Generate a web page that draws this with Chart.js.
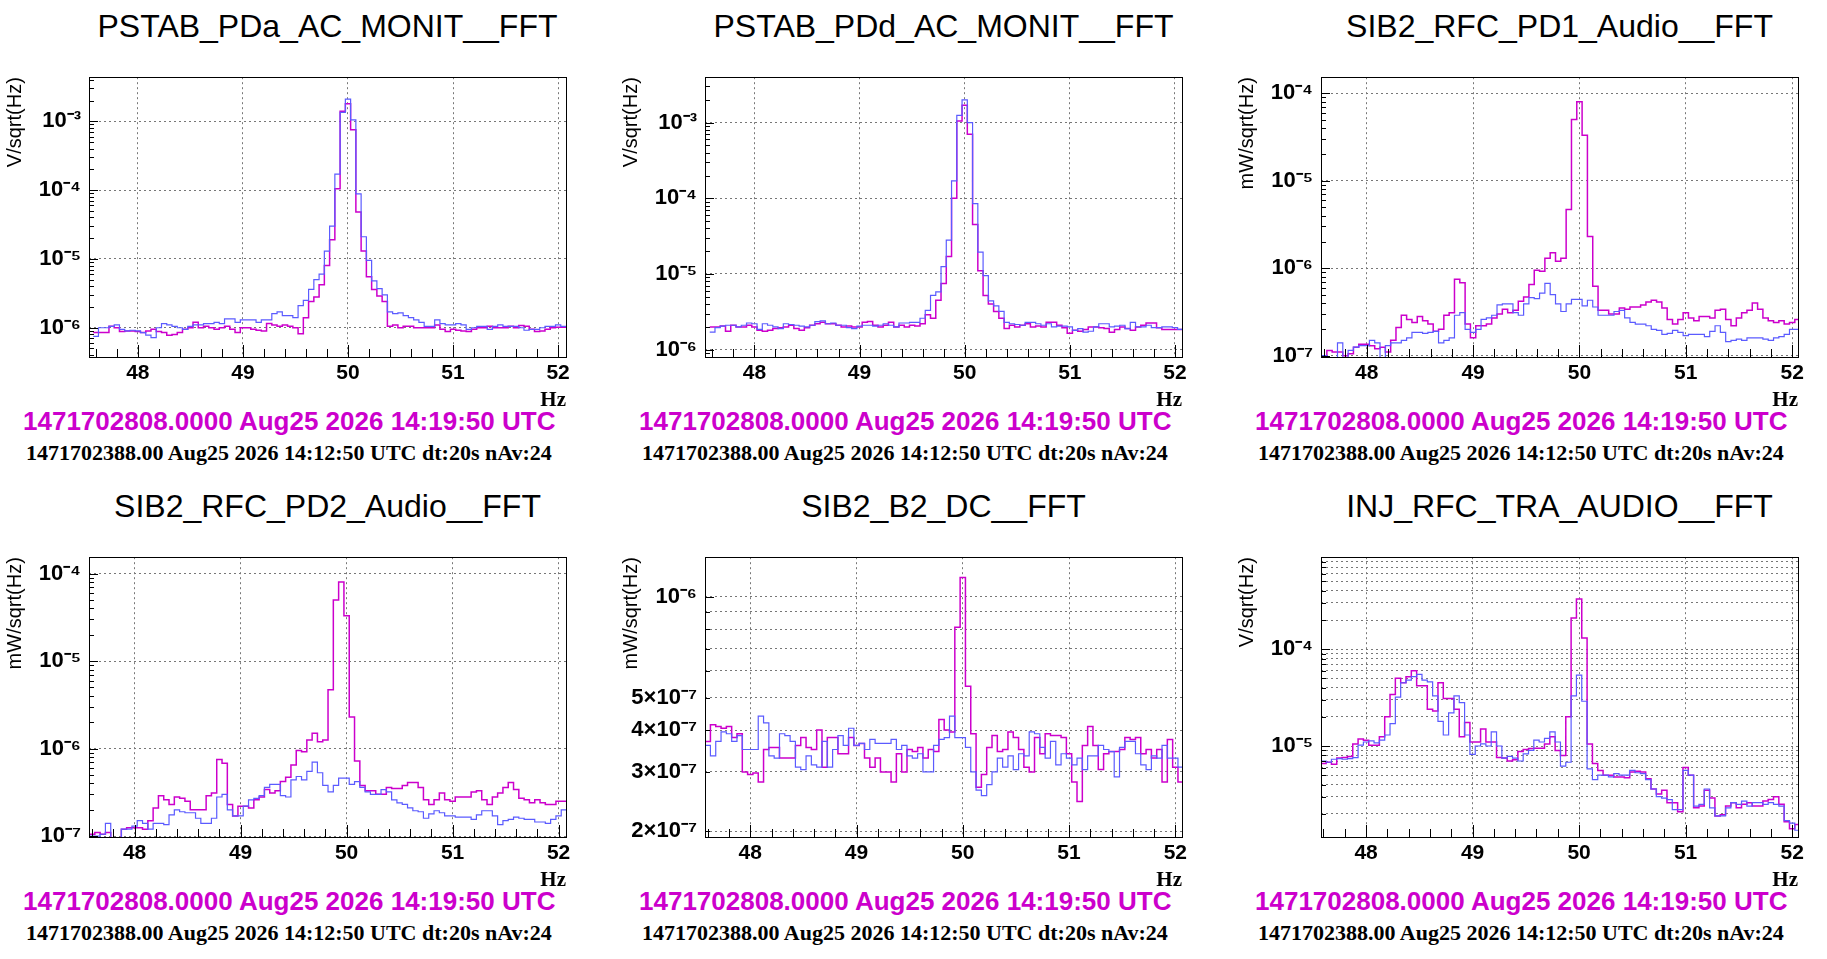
<!DOCTYPE html>
<html>
<head>
<meta charset="utf-8">
<script src="https://cdn.jsdelivr.net/npm/chart.js@4.4.1/dist/chart.umd.min.js"></script>
<style>
  body { margin: 0; background: #fff; width: 1827px; height: 959px; overflow: hidden; position: relative; }
  .title { position: absolute; font-family: "Liberation Sans", Arial, sans-serif; font-size: 32px; color: #000; text-align: center; white-space: nowrap; }
  .gps { position: absolute; font-family: "Liberation Sans", Arial, sans-serif; font-weight: bold; font-size: 26px; color: #cc00cc; white-space: nowrap; }
  .info { position: absolute; font-family: "Liberation Serif", "Times New Roman", serif; font-weight: bold; font-size: 22px; color: #000; white-space: nowrap; }
  canvas { position: absolute; }
</style>
</head>
<body>
<script>
// spectra, one value per 0.05 Hz bin starting at 47.60 Hz (10 bins per row), in units of `unit`
const panels = [
  {
    title: 'PSTAB_PDa_AC_MONIT__FFT', ylabel: 'V/sqrt(Hz)', unit: 1e-6,
    left: 89, top: 66, xmin: 47.535, xmax: 52.075, ymin: Math.pow(10, -6.425), ymax: Math.pow(10, -2.36),
    ticks: [1e-6, 1e-5, 1e-4, 1e-3],
    magenta: [
      0.85,0.85,0.85,1.05,1.0,0.88,0.9,0.9,0.88,0.85,
      0.9,0.95,0.88,0.85,0.78,0.8,0.85,0.95,1.0,1.2,
      1.0,1.05,1.0,0.95,1.0,1.05,0.95,0.85,1.0,1.0,
      0.95,0.92,0.9,1.15,1.1,1.05,1.1,1.05,1.0,0.82,
      1.4,2.4,2.8,4.2,8,19,105,1400,1800,750,
      48,13,5.5,3.6,2.9,2.4,1.05,1.1,1.0,1.05,
      1.05,1.0,1.0,1.0,1.0,1.1,0.95,0.88,0.95,0.92,
      0.9,0.88,0.95,1.0,1.0,1.05,1.0,1.0,1.0,1.05,
      1.0,1.08,1.05,0.95,0.88,0.9,0.95,1.0,1.02,1.02
    ],
    blue: [
      0.75,1.0,1.0,1.05,1.1,0.95,0.9,0.92,0.9,0.85,
      0.78,0.72,1.0,1.15,1.1,1.05,1.0,0.95,1.05,1.1,
      1.1,1.15,1.15,1.2,1.15,1.35,1.35,1.2,1.3,1.3,
      1.3,1.2,1.3,1.3,1.6,1.7,1.5,1.5,1.4,2.1,
      2.5,3.6,5.0,6.0,13,30,170,1350,2100,1050,
      88,21,9.5,4.8,3.7,3.0,1.7,1.6,1.65,1.5,
      1.4,1.3,1.2,1.05,1.05,1.3,1.15,1.1,1.1,1.15,
      1.1,0.95,1.0,1.05,1.05,0.95,1.05,1.1,1.05,1.05,
      1.05,1.0,0.92,0.95,0.95,1.0,1.05,1.05,1.1,1.05
    ]
  },
  {
    title: 'PSTAB_PDd_AC_MONIT__FFT', ylabel: 'V/sqrt(Hz)', unit: 1e-6,
    left: 705, top: 66, xmin: 47.53, xmax: 52.067, ymin: Math.pow(10, -6.097), ymax: Math.pow(10, -2.40),
    ticks: [1e-6, 1e-5, 1e-4, 1e-3],
    magenta: [
      2.0,2.0,2.05,1.75,2.1,2.0,2.0,2.1,2.0,1.8,
      1.75,1.8,1.9,1.95,2.0,2.1,1.9,1.8,1.95,2.1,
      2.2,2.3,2.2,2.2,2.1,2.0,2.05,2.0,2.0,2.3,
      2.35,2.1,2.0,2.1,2.3,2.0,2.1,2.0,2.1,2.05,
      2.2,2.9,2.6,4.5,7.5,17,100,1050,1700,700,
      45,11,5.2,4.0,3.2,2.6,1.9,2.1,2.0,2.1,
      2.2,2.0,2.05,2.0,2.3,2.3,2.1,1.95,1.65,1.8,
      1.75,1.85,2.0,2.0,1.95,1.9,1.7,1.85,2.0,1.9,
      1.8,2.0,2.1,2.25,2.25,1.95,1.85,1.85,1.85,1.85
    ],
    blue: [
      1.7,1.95,2.05,2.1,2.1,2.0,2.1,2.25,2.2,1.85,
      2.2,2.1,2.0,1.9,2.2,2.15,2.1,2.05,2.0,2.1,
      2.35,2.4,2.2,2.25,2.1,2.1,1.95,1.9,2.05,2.1,
      2.1,2.05,2.1,2.2,2.1,2.0,2.25,2.25,2.3,2.3,
      2.6,3.3,5.2,5.8,12.5,28,170,1250,2000,1000,
      85,19.5,9.5,4.4,3.8,3.2,2.3,2.2,2.15,2.1,
      2.3,2.3,2.2,2.1,2.2,2.0,2.05,2.05,2.0,1.8,
      1.9,1.7,1.75,2.0,2.2,2.2,2.0,2.05,2.1,1.9,
      2.3,2.0,2.0,2.1,1.95,1.95,2.0,2.0,1.95,1.85
    ]
  },
  {
    title: 'SIB2_RFC_PD1_Audio__FFT', ylabel: 'mW/sqrt(Hz)', unit: 1e-7,
    left: 1321, top: 66, xmin: 47.57, xmax: 52.055, ymin: Math.pow(10, -7.015), ymax: Math.pow(10, -3.817),
    ticks: [1e-7, 1e-6, 1e-5, 1e-4],
    magenta: [
      1.0,1.15,1.1,1.1,1.0,1.05,1.25,1.35,1.35,1.3,
      1.2,1.25,1.1,1.5,2.1,2.9,2.6,2.4,2.8,2.5,
      2.3,1.9,2.0,2.9,3.1,7.5,6.8,2.3,1.6,2.2,
      2.2,2.3,2.7,3.0,3.4,3.1,3.3,4.2,4.7,6.5,
      9.5,9.2,13,15,12,13,47,500,800,330,
      23,6.2,3.3,3.3,3.0,3.0,3.5,3.4,3.6,3.6,
      3.8,4.1,4.3,4.1,3.5,2.6,2.3,2.6,3.1,2.7,
      2.5,2.8,2.8,2.7,3.3,3.4,2.6,2.2,2.7,3.1,
      3.3,4.0,3.4,2.7,2.5,2.4,2.5,2.3,2.4,2.6
    ],
    blue: [
      1.0,0.95,0.9,1.4,0.9,1.15,1.25,1.3,1.3,1.5,
      1.4,0.95,1.3,1.4,1.4,1.5,1.6,1.85,1.85,1.8,
      1.85,1.9,1.4,1.5,1.6,2.9,3.1,2.0,1.85,2.0,
      2.6,2.7,2.9,3.8,3.9,3.9,3.1,2.9,3.9,4.6,
      4.5,5.2,6.7,5.0,3.9,3.2,3.9,4.4,4.4,3.7,
      4.3,3.6,2.9,2.9,2.9,3.2,3.3,2.7,2.4,2.3,
      2.3,2.2,2.0,1.95,1.75,1.8,1.95,1.85,1.7,1.75,
      1.75,1.75,1.65,1.9,2.2,1.85,1.45,1.5,1.55,1.5,
      1.6,1.6,1.6,1.55,1.5,1.6,1.65,1.75,2.0,2.0
    ]
  },
  {
    title: 'SIB2_RFC_PD2_Audio__FFT', ylabel: 'mW/sqrt(Hz)', unit: 1e-7,
    left: 89, top: 546, xmin: 47.57, xmax: 52.07, ymin: Math.pow(10, -7.01), ymax: Math.pow(10, -3.813),
    ticks: [1e-7, 1e-6, 1e-5, 1e-4],
    magenta: [
      1.05,1.1,1.05,1.1,0.9,0.9,1.2,1.25,1.25,1.25,
      1.2,1.5,2.1,2.9,2.6,2.3,2.8,2.7,2.5,2.0,
      2.0,2.0,2.9,3.1,7.5,6.8,2.3,1.7,2.2,2.2,
      2.1,2.6,2.8,3.4,3.1,3.3,4.2,4.7,6.5,9.5,
      9.2,12.5,15,12,12.5,47,500,800,330,23,
      7.2,3.8,3.3,3.3,3.0,3.0,3.6,3.5,3.5,3.8,
      4.1,4.1,3.6,2.6,2.3,2.6,3.1,2.6,2.5,2.8,
      2.8,2.8,3.2,3.3,2.6,2.3,2.8,3.1,3.6,4.1,
      3.4,2.7,2.6,2.4,2.6,2.4,2.3,2.3,2.5,2.5
    ],
    blue: [
      1.0,1.0,1.05,1.4,0.9,0.9,1.2,1.2,1.3,1.5,
      1.4,1.2,1.4,1.4,1.35,1.75,2.0,1.9,1.85,1.85,
      1.6,1.4,1.4,1.6,2.8,3.0,2.0,1.7,1.7,2.2,
      2.6,2.7,2.9,3.6,3.9,3.9,2.9,2.8,4.4,4.8,
      4.4,5.5,7.0,5.3,3.8,3.2,3.8,4.6,4.6,3.9,
      4.2,3.6,3.2,3.0,3.0,3.4,3.2,2.6,2.4,2.3,
      2.1,1.95,1.9,1.6,1.8,1.95,1.85,1.7,1.7,1.65,
      1.65,1.65,1.55,1.75,1.95,1.95,1.7,1.35,1.5,1.55,
      1.65,1.6,1.55,1.55,1.45,1.45,1.4,1.55,1.7,2.0
    ]
  },
  {
    title: 'SIB2_B2_DC__FFT', ylabel: 'mW/sqrt(Hz)', unit: 1e-7,
    left: 705, top: 546, xmin: 47.574, xmax: 52.063, ymin: 1.92e-7, ymax: 1.31e-6,
    ticks: [2e-7, 3e-7, 4e-7, 5e-7, 6e-7, 7e-7, 8e-7, 9e-7, 1e-6], labelled: [2e-7, 3e-7, 4e-7, 5e-7, 1e-6],
    magenta: [
      3.7,4.15,4.1,4.05,4.1,3.8,3.9,3.0,2.95,2.98,
      2.8,3.5,3.55,3.55,3.3,3.3,3.3,3.6,3.8,3.55,
      3.5,4.0,3.1,3.8,3.8,3.4,3.4,3.8,3.6,3.65,
      3.3,3.1,3.3,3.0,3.0,2.8,3.4,3.0,3.5,3.45,
      3.55,3.3,3.5,3.45,4.3,4.0,3.95,8.1,11.4,5.4,
      3.9,2.7,2.95,3.55,3.85,3.45,3.5,3.95,3.8,3.5,
      3.1,3.0,3.8,3.4,3.9,3.85,3.85,3.8,3.4,2.8,
      2.45,3.6,4.1,3.6,3.05,3.4,3.45,3.45,3.5,3.8,
      3.75,3.8,3.4,3.5,3.3,3.5,2.8,3.75,3.1,2.8
    ],
    blue: [
      3.6,3.35,3.7,3.95,3.9,3.7,3.85,3.5,3.5,3.5,
      4.4,4.2,3.35,3.3,3.9,3.85,3.7,3.1,3.05,3.35,
      3.15,3.1,3.7,3.1,3.5,3.85,3.6,4.05,3.6,3.65,
      3.5,3.75,3.65,3.65,3.65,3.75,3.5,3.6,3.35,3.3,
      3.4,3.0,3.0,3.6,3.75,3.8,4.4,3.8,3.8,3.55,
      3.0,2.65,2.55,2.75,3.0,3.3,3.1,3.35,3.05,3.4,
      3.35,3.95,3.9,3.55,3.3,3.7,3.15,3.4,3.3,3.15,
      3.3,3.05,3.35,3.35,3.6,3.5,3.45,2.9,3.55,3.7,
      3.7,3.4,3.15,3.05,3.35,3.3,3.6,3.3,3.3,3.1
    ]
  },
  {
    title: 'INJ_RFC_TRA_AUDIO__FFT', ylabel: 'V/sqrt(Hz)', unit: 1e-6,
    left: 1321, top: 546, xmin: 47.577, xmax: 52.055, ymin: 1.15e-6, ymax: 8.9e-4,
    ticks: [2e-6,3e-6,4e-6,5e-6,6e-6,7e-6,8e-6,9e-6,1e-5,2e-5,3e-5,4e-5,5e-5,6e-5,7e-5,8e-5,9e-5,1e-4,2e-4,3e-4,4e-4,5e-4,6e-4,7e-4,8e-4],
    labelled: [1e-5, 1e-4],
    magenta: [
      6.6,6.8,6.5,7.5,7.6,7.8,10.5,11.8,11.5,10.2,
      10.2,12.5,20,34,50,45,52,60,42,42,
      24,23,45,31,31,24,12.5,17.5,11,11,
      15,11,11,7.6,7.5,7.0,7.2,8.8,9.2,9.4,
      9.5,9.5,10.5,12.5,9,8,20,210,330,130,
      10.5,6.6,5.6,5.0,5.0,4.8,4.8,4.7,5.4,5.5,
      5.4,4.6,3.6,3.2,3.5,2.6,2.6,2.1,6.0,5.0,
      2.3,2.4,3.5,2.9,1.9,1.95,2.4,2.6,2.3,2.5,
      2.6,2.4,2.4,2.7,2.8,3.0,2.5,1.65,1.4,1.55
    ],
    blue: [
      7.0,6.8,7.3,7.4,7.3,7.4,7.6,10.2,11.0,11.3,
      10.8,11.5,13,17,32,45,48,52,55,48,
      46,33,18,13,22,33,28,13,8.2,10,
      10.5,10,14,10,7.5,7.8,7.5,7.0,8.3,9.0,
      11.5,11,12,14,11,6.2,6.8,33,54,29,
      5.8,4.5,5.0,5.0,4.8,5.2,5.0,5.0,5.6,5.3,
      5.2,4.5,3.6,3.0,2.9,2.8,2.2,2.2,5.6,5.0,
      2.4,2.5,3.6,2.3,1.9,1.9,2.3,2.6,2.5,2.7,
      2.4,2.6,2.6,2.5,2.6,2.5,2.4,1.7,1.6,1.35
    ]
  }
];

const PLOT_W = 477, PLOT_H = 291;
const PAD_L = 90, PAD_T = 10, PAD_R = 24, PAD_B = 60;
const SUP = { '-': '\u207b', '0': '\u2070', '1': '\u00b9', '2': '\u00b2', '3': '\u00b3', '4': '\u2074', '5': '\u2075', '6': '\u2076', '7': '\u2077', '8': '\u2078', '9': '\u2079' };

function sup(s) { return String(s).split('').map(c => SUP[c]).join(''); }

function logLabel(v) {
  const e = Math.floor(Math.log10(v) + 1e-9);
  const m = Math.round(v / Math.pow(10, e));
  return (m === 1 ? '' : m + '\u00d7') + '10' + sup(e);
}

function toPoints(values, unit, xmin) {
  const pts = values.map((v, i) => ({ x: Math.max(xmin, 47.575 + 0.05 * i), y: v * unit }));
  pts.push({ x: 47.575 + 0.05 * values.length, y: values[values.length - 1] * unit });
  return pts;
}

// ROOT-style frame with ticks drawn inside the plot
const frame = {
  id: 'frame',
  afterDatasetsDraw(chart) {
    const { ctx, chartArea: a, scales } = chart;
    ctx.save();
    ctx.strokeStyle = '#000';
    ctx.lineWidth = 1;
    ctx.beginPath();
    for (let v = 47.6; v < 52.1; v += 0.2) {
      const px = Math.round(scales.x.getPixelForValue(v)) + 0.5;
      if (px < a.left || px > a.right) continue;
      const major = Math.abs(v - Math.round(v)) < 1e-6;
      ctx.moveTo(px, a.bottom); ctx.lineTo(px, a.bottom - (major ? 12 : 8));
    }
    const y = scales.y;
    for (let e = -8; e <= -2; e++) {
      for (let m = 1; m <= 9; m++) {
        const v = m * Math.pow(10, e);
        if (v < y.min || v > y.max) continue;
        const py = Math.round(y.getPixelForValue(v)) + 0.5;
        ctx.moveTo(a.left, py); ctx.lineTo(a.left + (m === 1 ? 9 : 5), py);
      }
    }
    ctx.stroke();
    ctx.strokeRect(Math.round(a.left) + 0.5, Math.round(a.top) + 0.5, Math.round(a.right - a.left), Math.round(a.bottom - a.top));
    ctx.restore();
  }
};

panels.forEach(p => {
  const t = document.createElement('div');
  t.className = 'title';
  t.textContent = p.title;
  t.style.left = (p.left - 40) + 'px';
  t.style.width = (PLOT_W + 80) + 'px';
  t.style.top = (p.top - 58) + 'px';
  document.body.appendChild(t);

  const g = document.createElement('div');
  g.className = 'gps';
  g.textContent = '1471702808.0000 Aug25 2026 14:19:50 UTC';
  g.style.left = (p.left - 66) + 'px';
  g.style.top = (p.top + 340) + 'px';
  document.body.appendChild(g);

  const inf = document.createElement('div');
  inf.className = 'info';
  inf.textContent = '1471702388.00 Aug25 2026 14:12:50 UTC dt:20s nAv:24';
  inf.style.left = (p.left - 63) + 'px';
  inf.style.top = (p.top + 374) + 'px';
  document.body.appendChild(inf);

  const c = document.createElement('canvas');
  c.style.left = (p.left - PAD_L) + 'px';
  c.style.top = (p.top - PAD_T) + 'px';
  c.style.width = (PLOT_W + PAD_L + PAD_R) + 'px';
  c.style.height = (PLOT_H + PAD_T + PAD_B) + 'px';
  c.width = PLOT_W + PAD_L + PAD_R;
  c.height = PLOT_H + PAD_T + PAD_B;
  document.body.appendChild(c);

  const labelled = p.labelled || p.ticks;
  const gridDash = { display: false, dash: [2, 3] };

  new Chart(c, {
    type: 'line',
    data: {
      datasets: [
        { data: toPoints(p.blue, p.unit, p.xmin), borderColor: '#5b5bff', borderWidth: 1.2, stepped: true, pointRadius: 0, fill: false },
        { data: toPoints(p.magenta, p.unit, p.xmin), borderColor: '#cc00cc', borderWidth: 1.5, stepped: true, pointRadius: 0, fill: false }
      ]
    },
    options: {
      responsive: false,
      animation: false,
      devicePixelRatio: 1,
      layout: { padding: { top: PAD_T, right: PAD_R, left: 0, bottom: 0 } },
      plugins: { legend: { display: false }, tooltip: { enabled: false } },
      scales: {
        x: {
          type: 'linear', min: p.xmin, max: p.xmax,
          afterBuildTicks: s => { s.ticks = [48, 49, 50, 51, 52].map(v => ({ value: v })); },
          afterFit: s => { s.height = PAD_B; },
          ticks: { padding: 4, autoSkip: false, color: '#000', font: { family: 'Liberation Sans', weight: 'bold', size: 21 }, maxRotation: 0 },
          grid: { color: '#777', drawTicks: false },
          border: gridDash,
          title: { display: true, text: 'Hz', align: 'end', color: '#000', padding: { top: 0 },
                   font: { family: 'Liberation Serif', weight: 'bold', size: 21 } }
        },
        y: {
          type: 'logarithmic', min: p.ymin, max: p.ymax,
          afterBuildTicks: s => { s.ticks = p.ticks.map(v => ({ value: v })); },
          afterFit: s => { s.width = PAD_L; },
          ticks: {
            padding: 8, autoSkip: false, color: '#000', font: { family: 'Liberation Sans', weight: 'bold', size: 22 },
            callback: v => labelled.some(l => Math.abs(l - v) / l < 1e-6) ? logLabel(v) : ''
          },
          grid: { color: '#777', drawTicks: false },
          border: gridDash,
          title: { display: true, text: p.ylabel, align: 'end', color: '#000', padding: { bottom: 0 },
                   font: { family: 'Liberation Sans', size: 20 } }
        }
      }
    },
    plugins: [frame]
  });
});
</script>
</body>
</html>
